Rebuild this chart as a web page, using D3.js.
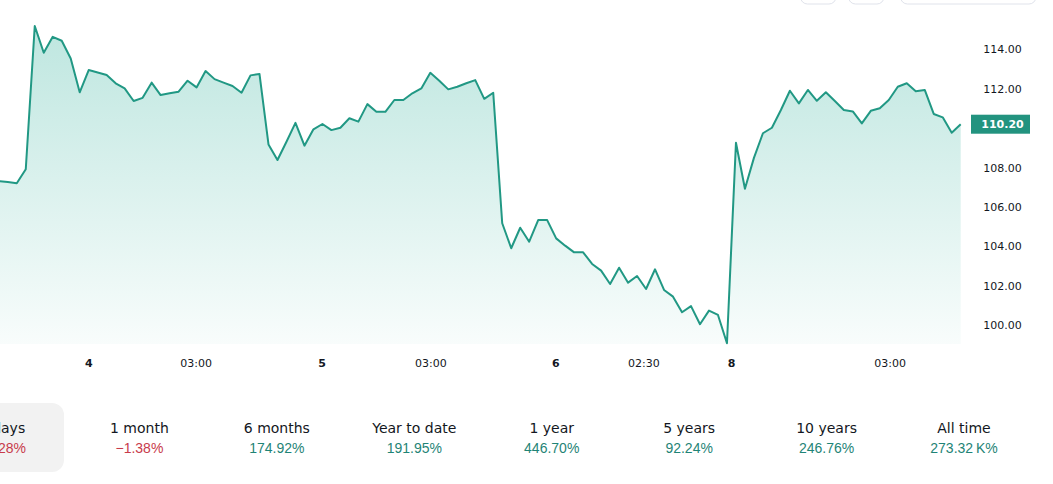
<!DOCTYPE html>
<html>
<head>
<meta charset="utf-8">
<script src="https://cdn.jsdelivr.net/npm/d3@7"></script>
<style>
  html, body { margin: 0; padding: 0; background: #ffffff; }
  svg { display: block; }
</style>
</head>
<body>
<svg id="chart" width="1053" height="484"></svg>
<script>
// ---- data ----
const prices = [
  107.31, 107.26, 107.20, 107.91, 115.19, 113.83, 114.64, 114.44, 113.54, 111.82,
  112.95, 112.83, 112.70, 112.28, 112.02, 111.38, 111.54, 112.31, 111.68, 111.77,
  111.85, 112.41, 112.07, 112.90, 112.49, 112.31, 112.14, 111.80, 112.68, 112.75,
  109.17, 108.38, 109.31, 110.27, 109.11, 109.94, 110.21, 109.90, 110.02, 110.50,
  110.33, 111.22, 110.83, 110.83, 111.43, 111.43, 111.77, 112.02, 112.81, 112.41,
  111.97, 112.10, 112.28, 112.44, 111.49, 111.80, 105.17, 103.90, 104.94, 104.23,
  105.33, 105.33, 104.40, 104.03, 103.69, 103.69, 103.10, 102.76, 102.08, 102.91,
  102.15, 102.49, 101.83, 102.83, 101.78, 101.44, 100.65, 100.96, 100.04, 100.73,
  100.51, 99.07, 109.26, 106.92, 108.49, 109.74, 110.02, 110.92, 111.90, 111.26,
  111.94, 111.39, 111.82, 111.38, 110.92, 110.85, 110.24, 110.88, 111.01, 111.43,
  112.10, 112.28, 111.88, 111.94, 110.72, 110.55, 109.77, 110.20
];
const lastPrice = 110.20;
// 110.00 is hidden behind the last-price label in the reference
const yTicks = [100, 102, 104, 106, 108, 112, 114];
// x tick positions expressed in bar index units
const xTickPos = [9.95, 21.9, 35.9, 48, 61.9, 71.7, 81.45, 99.1];
const xTickLabels = ["4", "03:00", "5", "03:00", "6", "02:30", "8", "03:00"];
const xTickIsDay = [true, false, true, false, true, false, true, false];
const periodLabels = ["5 days", "1 month", "6 months", "Year to date", "1 year", "5 years", "10 years", "All time"];
const periodChanges = ["\u22121.28%", "\u22121.38%", "174.92%", "191.95%", "446.70%", "92.24%", "246.76%", "273.32\u202FK%"];
const periodNegative = [true, true, false, false, false, false, false, false];

// ---- styles ----
const lineColor = "#219884";
const boxColor = "#22937f";
const posColor = "#1f8476";
const negColor = "#c83b4b";
const textColor = "#131722";

const svg = d3.select("#chart");

const x = d3.scaleLinear().domain([0, prices.length - 1]).range([-1.2, 960.7]);
const y = d3.scaleLinear().domain([100, 114]).range([325, 49.4]);
const plotBottom = 344;

// gradient
const defs = svg.append("defs");
const grad = defs.append("linearGradient")
  .attr("id", "areaGrad")
  .attr("gradientUnits", "userSpaceOnUse")
  .attr("x1", 0).attr("y1", 20).attr("x2", 0).attr("y2", plotBottom);
grad.append("stop").attr("offset", "0%").attr("stop-color", "#22ab94").attr("stop-opacity", 0.30);
grad.append("stop").attr("offset", "100%").attr("stop-color", "#22ab94").attr("stop-opacity", 0.03);

// top toolbar buttons (partially visible)
const buttons = [[800.5, 836], [848.5, 884], [900.5, 1036]];
svg.selectAll("rect.btn").data(buttons).enter().append("rect")
  .attr("class", "btn")
  .attr("x", d => d[0]).attr("y", -30)
  .attr("width", d => d[1] - d[0]).attr("height", 34)
  .attr("rx", 7)
  .attr("fill", "#ffffff").attr("stroke", "#e0e3eb").attr("stroke-width", 1);

// area
const area = d3.area()
  .x((d, i) => x(i))
  .y0(plotBottom)
  .y1(d => y(d));
svg.append("path").datum(prices)
  .attr("d", area)
  .attr("fill", "url(#areaGrad)");

// line
const line = d3.line()
  .x((d, i) => x(i))
  .y(d => y(d));
svg.append("path").datum(prices)
  .attr("d", line)
  .attr("fill", "none")
  .attr("stroke", lineColor)
  .attr("stroke-width", 2)
  .attr("stroke-linejoin", "round");

// y axis
const yAxis = d3.axisRight(y).tickValues(yTicks).tickFormat(d3.format(".2f")).tickSize(0).tickPadding(0);
const yG = svg.append("g").attr("transform", "translate(1002.5,0)").call(yAxis);
yG.select(".domain").remove();
yG.selectAll("text")
  .attr("text-anchor", "middle")
  .attr("font-family", "DejaVu Sans, Verdana, sans-serif")
  .attr("font-size", 11)
  .attr("fill", textColor);

// last price box
const by = y(lastPrice);
svg.append("rect")
  .attr("x", 971).attr("y", by - 9.5)
  .attr("width", 59).attr("height", 19)
  .attr("fill", boxColor);
svg.append("text")
  .attr("x", 1002.5).attr("y", by)
  .attr("dy", "0.35em")
  .attr("text-anchor", "middle")
  .attr("font-family", "DejaVu Sans, Verdana, sans-serif")
  .attr("font-size", 11)
  .attr("font-weight", "bold")
  .attr("fill", "#ffffff")
  .text(d3.format(".2f")(lastPrice));

// x axis
const xAxis = d3.axisBottom(x).tickValues(xTickPos).tickFormat((d, i) => xTickLabels[i]).tickSize(0).tickPadding(0);
const xG = svg.append("g").attr("transform", "translate(0,359)").call(xAxis);
xG.select(".domain").remove();
xG.selectAll("text")
  .attr("font-family", "DejaVu Sans, Verdana, sans-serif")
  .attr("font-size", 11)
  .attr("fill", textColor)
  .attr("font-weight", (d, i) => xTickIsDay[i] ? "bold" : "normal");

// period selector
const px = d3.scaleLinear().domain([0, periodLabels.length - 1]).range([2, 964]);
svg.append("rect")
  .attr("x", -24).attr("y", 403)
  .attr("width", 88).attr("height", 69)
  .attr("rx", 12)
  .attr("fill", "#f2f2f2");
const pg = svg.append("g");
pg.selectAll("text.plabel").data(periodLabels).enter().append("text")
  .attr("class", "plabel")
  .attr("x", (d, i) => px(i)).attr("y", 433)
  .attr("text-anchor", "middle")
  .attr("font-family", "DejaVu Sans, Verdana, sans-serif")
  .attr("font-size", 14)
  .attr("fill", textColor)
  .text(d => d);
pg.selectAll("text.pval").data(periodChanges).enter().append("text")
  .attr("class", "pval")
  .attr("x", (d, i) => px(i)).attr("y", 453)
  .attr("text-anchor", "middle")
  .attr("font-family", "Liberation Sans, Arial, sans-serif")
  .attr("font-size", 14)
  .attr("fill", (d, i) => periodNegative[i] ? negColor : posColor)
  .text(d => d);
</script>
</body>
</html>
